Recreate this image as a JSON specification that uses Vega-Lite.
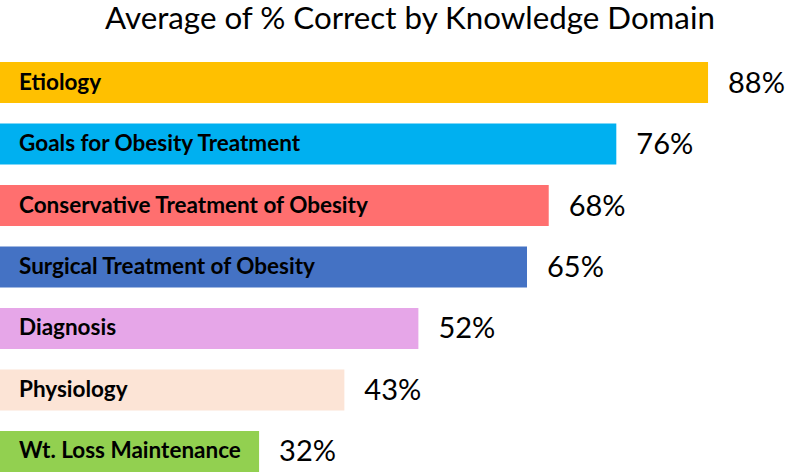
{
  "$schema": "https://vega.github.io/schema/vega-lite/v6.json",
  "autosize": {"type": "none"},
  "width": 786,
  "height": 410,
  "padding": {"top": 62, "left": 0, "right": 0, "bottom": 1},
  "background": "white",
  "config": {"view": {"stroke": null}},
  "title": {
    "text": "Average of % Correct by Knowledge Domain",
    "anchor": "start",
    "frame": "group",
    "dx": 105,
    "offset": 2,
    "baseline": "alphabetic",
    "font": "Lato",
    "fontSize": 31.3,
    "fontWeight": "normal",
    "color": "#000000"
  },
  "data": {
    "values": [
      {"domain": "Etiology", "pct": 88, "label": "88%", "color": "#FFC000"},
      {"domain": "Goals for Obesity Treatment", "pct": 76.6, "label": "76%", "color": "#00B0F0"},
      {"domain": "Conservative Treatment of Obesity", "pct": 68.2, "label": "68%", "color": "#FF6F6F"},
      {"domain": "Surgical Treatment of Obesity", "pct": 65.5, "label": "65%", "color": "#4472C4"},
      {"domain": "Diagnosis", "pct": 52, "label": "52%", "color": "#E6A6E8"},
      {"domain": "Physiology", "pct": 42.8, "label": "43%", "color": "#FCE4D6"},
      {"domain": "Wt. Loss Maintenance", "pct": 32.2, "label": "32%", "color": "#92D050"}
    ]
  },
  "encoding": {
    "y": {
      "field": "domain",
      "type": "nominal",
      "sort": null,
      "axis": null,
      "scale": {"paddingInner": 0.333, "paddingOuter": 0}
    }
  },
  "layer": [
    {
      "mark": {"type": "bar", "cornerRadius": 0},
      "encoding": {
        "x": {"field": "pct", "type": "quantitative", "axis": null, "scale": {"domain": [0, 97.69], "nice": false, "zero": true}},
        "color": {"field": "color", "type": "nominal", "scale": null, "legend": null}
      }
    },
    {
      "mark": {"type": "text", "align": "left", "baseline": "middle", "dx": 19, "font": "Lato", "fontWeight": "bold", "fontSize": 22.5, "color": "#000000"},
      "encoding": {
        "x": {"datum": 0, "type": "quantitative"},
        "text": {"field": "domain"}
      }
    },
    {
      "mark": {"type": "text", "align": "left", "baseline": "middle", "dx": 20, "dy": 1, "font": "Lato", "fontSize": 29, "color": "#000000"},
      "encoding": {
        "x": {"field": "pct", "type": "quantitative"},
        "text": {"field": "label"}
      }
    }
  ]
}
